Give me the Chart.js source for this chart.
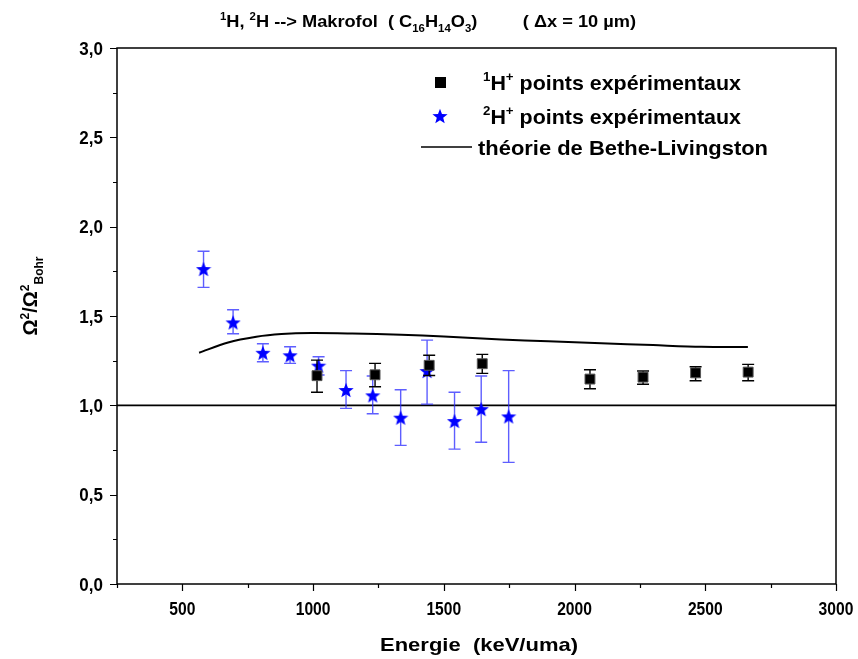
<!DOCTYPE html>
<html><head><meta charset="utf-8">
<script src="https://cdn.jsdelivr.net/npm/chart.js@4/dist/chart.umd.min.js"></script>
<style>html,body{margin:0;padding:0;background:#fff}canvas{display:block}</style>
</head><body>
<canvas id="c" width="858" height="659"></canvas>
<script>
// ---- data ----
const h1Energy = [1015, 1237, 1444, 1647, 2059, 2262, 2463, 2664];
const h1Ratio  = [1.166, 1.171, 1.224, 1.233, 1.147, 1.158, 1.182, 1.186];
const h1Low    = [1.073, 1.104, 1.167, 1.179, 1.093, 1.118, 1.138, 1.138];
const h1High   = [1.253, 1.235, 1.280, 1.285, 1.199, 1.192, 1.216, 1.229];

const h2Energy = [581, 694, 808, 912, 1021, 1126, 1228, 1335, 1436, 1541, 1643, 1748];
const h2Ratio  = [1.763, 1.464, 1.294, 1.280, 1.222, 1.086, 1.056, 0.931, 1.192, 0.912, 0.979, 0.938];
const h2Low    = [1.660, 1.401, 1.244, 1.235, 1.170, 0.983, 0.953, 0.776, 1.007, 0.755, 0.793, 0.681];
const h2High   = [1.862, 1.535, 1.345, 1.328, 1.272, 1.194, 1.164, 1.087, 1.365, 1.073, 1.164, 1.194];

const theoryEnergy = [564, 675, 783, 879, 993, 1150, 1337, 1500, 1719, 1900, 2102, 2300, 2484, 2663];
const theoryRatio  = [1.294, 1.352, 1.384, 1.399, 1.405, 1.402, 1.395, 1.385, 1.369, 1.358, 1.347, 1.337, 1.328, 1.326];

const unityEnergy = [250, 3000];
const unityRatio  = [1.0, 1.0];

const legendLabels = [
  [['1', 1], ['H', 0], ['+', 1], [' points expérimentaux', 0]],
  [['2', 1], ['H', 0], ['+', 1], [' points expérimentaux', 0]],
  [['théorie de Bethe-Livingston', 0]]
];
const titleParts = [['1',1],['H, ',0],['2',1],['H --> Makrofol  ( C',0],['16',-1],['H',0],['14',-1],['O',0],['3',-1],[')         ( Δx = 10 µm)',0]];
const yTitleParts = [['Ω',0],['2',1],['/Ω',0],['2',1],['Bohr',-1]];
const xTitle = 'Energie  (keV/uma)';

const FONT = "'Liberation Sans', Arial, Helvetica, sans-serif";

function toXY(xs, ys) { return xs.map((x, i) => ({ x: x, y: ys[i] })); }
function fmtX(v) { return String(v); }
function fmtY(v) { return v.toFixed(1).replace('.', ','); }

function makeStar(size, color) {
  const c = document.createElement('canvas');
  c.width = size; c.height = size;
  const g = c.getContext('2d');
  const cx = size / 2, cy = size / 2 + 0.8, R = size / 2, r = R * 0.42;
  g.beginPath();
  for (let i = 0; i < 10; i++) {
    const a = -Math.PI / 2 + i * Math.PI / 5;
    const rr = i % 2 === 0 ? R : r;
    g.lineTo(cx + rr * Math.cos(a), cy + rr * Math.sin(a));
  }
  g.closePath();
  g.fillStyle = color; g.fill();
  return c;
}
const starImg = makeStar(16, '#0000ff');

function richWidth(ctx, parts, size) {
  let w = 0;
  for (const [t, m] of parts) {
    ctx.font = 'bold ' + (m === 0 ? size : Math.round(size * 0.62)) + 'px ' + FONT;
    w += ctx.measureText(t).width;
  }
  return w;
}
function richDraw(ctx, x, y, parts, size) {
  ctx.textAlign = 'left'; ctx.textBaseline = 'alphabetic';
  let cx = x;
  for (const [t, m] of parts) {
    const s = m === 0 ? size : Math.round(size * 0.62);
    ctx.font = 'bold ' + s + 'px ' + FONT;
    const dy = m === 1 ? -size * 0.42 : (m === -1 ? size * 0.32 : 0);
    ctx.fillText(t, cx, y + dy);
    cx += ctx.measureText(t).width;
  }
}
function richFit(ctx, x, y, parts, size, width) {
  const w = richWidth(ctx, parts, size);
  ctx.save();
  ctx.translate(x, y);
  ctx.scale(width / w, 1);
  richDraw(ctx, 0, 0, parts, size);
  ctx.restore();
}

const errorBars = { 0: [h1Energy, h1Low, h1High, '#000000'], 1: [h2Energy, h2Low, h2High, 'rgba(40,40,255,0.75)'] };

const deco = {
  id: 'deco',
  beforeDatasetDraw(chart, args) {
    const eb = errorBars[args.index];
    if (!eb) return;
    const ctx = chart.ctx, xs = chart.scales.x, ys = chart.scales.y;
    ctx.save();
    ctx.strokeStyle = eb[3]; ctx.lineWidth = 1.4;
    eb[0].forEach((e, i) => {
      const px = xs.getPixelForValue(e);
      const lo = ys.getPixelForValue(eb[1][i]);
      const hi = ys.getPixelForValue(eb[2][i]);
      ctx.beginPath();
      ctx.moveTo(px, lo); ctx.lineTo(px, hi);
      ctx.moveTo(px - 6, lo); ctx.lineTo(px + 6, lo);
      ctx.moveTo(px - 6, hi); ctx.lineTo(px + 6, hi);
      ctx.stroke();
    });
    ctx.restore();
  },
  afterDraw(chart) {
    const ctx = chart.ctx, a = chart.chartArea, xs = chart.scales.x, ys = chart.scales.y;
    ctx.save();
    ctx.fillStyle = '#000'; ctx.strokeStyle = '#000';
    ctx.lineWidth = 1.5;
    ctx.strokeRect(a.left, a.top, a.right - a.left, a.bottom - a.top);
    ctx.lineWidth = 1.2;
    ctx.beginPath();
    xs.ticks.forEach(t => {
      const px = Math.round(xs.getPixelForValue(t.value)) + 0.5;
      const major = t.value % 500 === 0;
      ctx.moveTo(px, a.bottom); ctx.lineTo(px, a.bottom + (major ? 7 : 4));
    });
    ys.ticks.forEach(t => {
      const py = Math.round(ys.getPixelForValue(t.value)) + 0.5;
      const major = Math.abs(t.value * 2 - Math.round(t.value * 2)) < 1e-6;
      ctx.moveTo(a.left, py); ctx.lineTo(a.left - (major ? 7 : 4), py);
    });
    ctx.stroke();
    ctx.font = 'bold 17px ' + FONT;
    ctx.textBaseline = 'alphabetic';
    xs.ticks.forEach(t => {
      if (t.value % 500 !== 0) return;
      const px = xs.getPixelForValue(t.value);
      ctx.save(); ctx.translate(px, a.bottom + 31); ctx.scale(0.92, 1.05);
      ctx.textAlign = 'center'; ctx.fillText(fmtX(t.value), 0, 0); ctx.restore();
    });
    ys.ticks.forEach(t => {
      if (Math.abs(t.value * 2 - Math.round(t.value * 2)) > 1e-6) return;
      const py = ys.getPixelForValue(t.value);
      ctx.save(); ctx.translate(a.left - 14, py + 6.5); ctx.scale(1, 1.05);
      ctx.textAlign = 'right'; ctx.fillText(fmtY(t.value), 0, 0); ctx.restore();
    });
    richFit(ctx, 220, 27, titleParts, 16, 416);
    richFit(ctx, 380, 651, [[xTitle, 0]], 19, 198);
    ctx.save();
    ctx.translate(37, 296);
    ctx.rotate(-Math.PI / 2);
    const yw = richWidth(ctx, yTitleParts, 20);
    richDraw(ctx, -yw / 2, 0, yTitleParts, 20);
    ctx.restore();
    const lx = 440, rows = [82, 116, 147];
    ctx.fillStyle = '#000';
    ctx.fillRect(lx - 5, rows[0] - 5, 11, 11);
    ctx.drawImage(starImg, lx - 8, rows[1] - 8);
    ctx.lineWidth = 1.6;
    ctx.beginPath(); ctx.moveTo(421, rows[2]); ctx.lineTo(472, rows[2]); ctx.stroke();
    legendLabels.forEach((parts, i) => {
      const x0 = i === 2 ? 478 : 483;
      richFit(ctx, x0, rows[i] + 8, parts, 21, i === 2 ? 290 : 258);
    });
    ctx.restore();
  }
};

new Chart(document.getElementById('c'), {
  type: 'scatter',
  data: {
    datasets: [
      { label: '1H+', data: toXY(h1Energy, h1Ratio), pointStyle: 'rect', pointRadius: 7, pointHoverRadius: 7,
        backgroundColor: '#000', borderColor: '#555', borderWidth: 1 },
      { label: '2H+', data: toXY(h2Energy, h2Ratio), pointStyle: starImg, pointRadius: 8 },
      { label: 'theory', data: toXY(theoryEnergy, theoryRatio), showLine: true, pointRadius: 0,
        borderColor: '#000', borderWidth: 2, tension: 0.3, fill: false },
      { label: 'unity', data: toXY(unityEnergy, unityRatio), showLine: true, pointRadius: 0,
        borderColor: '#000', borderWidth: 1.6, fill: false }
    ]
  },
  options: {
    responsive: false,
    animation: false,
    devicePixelRatio: 1,
    layout: { padding: { top: 48, right: 22, left: 0, bottom: 0 } },
    plugins: { legend: { display: false }, title: { display: false }, tooltip: { enabled: false } },
    scales: {
      x: {
        type: 'linear', min: 250, max: 3000,
        afterFit(s) { s.height = 75; s.paddingLeft = 0; s.paddingRight = 0; },
        grid: { display: false },
        border: { display: false },
        ticks: { stepSize: 250, display: false, autoSkip: false }
      },
      y: {
        type: 'linear', min: 0, max: 3,
        afterFit(s) { s.width = 117; s.paddingTop = 0; s.paddingBottom = 0; },
        grid: { display: false },
        border: { display: false },
        ticks: { stepSize: 0.25, display: false, autoSkip: false }
      }
    }
  },
  plugins: [deco]
});
</script>
</body></html>
